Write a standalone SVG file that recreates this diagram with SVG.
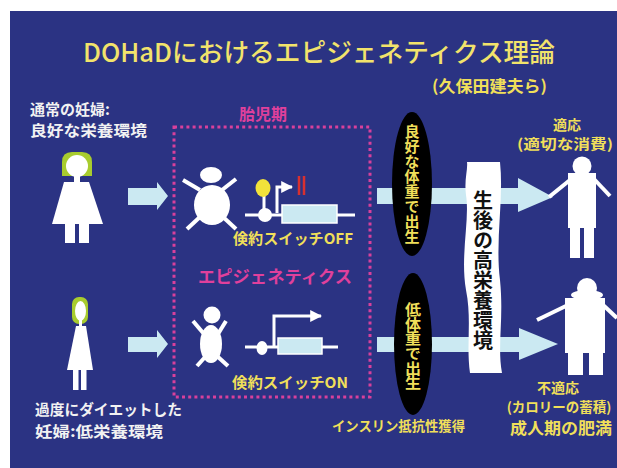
<svg xmlns="http://www.w3.org/2000/svg" width="617" height="468" viewBox="0 0 617 468">
  <style>
    .jp { font-family: "Noto Sans CJK JP", "Noto Sans", sans-serif; }
    .title { fill: #f2e36b; font-size: 26px; font-weight: 500; }
    .yel { fill: #f0df5a; font-weight: 700; }
    .wht { fill: #f2f2f2; font-weight: 700; font-size: 15px; }
    .mag { fill: #e0409c; font-weight: 700; }
    .fig { fill: #ffffff; }
    .limb { stroke: #ffffff; stroke-width: 4; stroke-linecap: butt; fill: none; }
    .dna { stroke: #ffffff; stroke-width: 3; fill: none; }
    .flow { fill: #cbe9f2; }
    .vtxt { writing-mode: vertical-rl; }
  </style>
  <defs>
    <marker id="tss" viewBox="0 0 10 10" refX="9" refY="5" markerWidth="4" markerHeight="4" orient="auto">
      <path d="M0,0 L10,5 L0,10 z" fill="#ffffff"/>
    </marker>
  </defs>

  <!-- slide background -->
  <rect x="0" y="0" width="617" height="468" fill="#ffffff"/>
  <rect x="10" y="11" width="607" height="457" fill="#2b3383"/>

  <!-- headings -->
  <g id="title">
    <text class="jp title" x="83" y="62" textLength="472" lengthAdjust="spacingAndGlyphs">DOHaDにおけるエピジェネティクス理論</text>
    <text class="jp yel" x="432" y="92" font-size="16" textLength="115" lengthAdjust="spacingAndGlyphs">(久保田建夫ら)</text>
  </g>

  <!-- connectors -->
  <g id="connectors">
    <polygon class="flow" points="128,188 157,188 157,182 168,196 157,210 157,205 128,205"/>
    <polygon class="flow" points="128,337 157,337 157,330 168,344 157,358 157,352 128,352"/>
    <polygon class="flow" points="377,188 518,188 518,178 553,197 518,212 518,204 377,204"/>
    <polygon class="flow" points="377,337 519,337 519,328 558,344 519,360 519,352 377,352"/>
  </g>

  <!-- mother with good nutrition -->
  <g id="mother-normal">
    <text class="jp wht" x="30" y="115">通常の妊婦:</text>
    <text class="jp wht" x="30" y="136" textLength="117" lengthAdjust="spacingAndGlyphs">良好な栄養環境</text>
    <path d="M62,176 L62,162 Q62,152 72,152 L82,152 Q92,152 92,162 L92,176 Z" fill="#a8cc2e"/>
    <circle class="fig" cx="77" cy="166" r="11"/>
    <rect class="fig" x="74" y="175" width="6" height="8"/>
    <polygon class="fig" points="64,182 89,182 103,224 52,224"/>
    <rect class="fig" x="65" y="223" width="10" height="20"/>
    <rect class="fig" x="79" y="223" width="10" height="20"/>
  </g>

  <!-- mother on an excessive diet -->
  <g id="mother-diet">
    <rect x="72" y="297" width="16" height="27" rx="7" fill="#a8cc2e"/>
    <ellipse class="fig" cx="80.5" cy="311" rx="5.5" ry="10"/>
    <rect class="fig" x="79" y="320" width="3" height="7"/>
    <polygon class="fig" points="76,326 86,326 93,370 67,370"/>
    <rect class="fig" x="73" y="369" width="5.5" height="21"/>
    <rect class="fig" x="81" y="369" width="5.5" height="21"/>
    <text class="jp wht" x="35" y="415" textLength="147" lengthAdjust="spacingAndGlyphs">過度にダイエットした</text>
    <text class="jp wht" x="35" y="437" textLength="128" lengthAdjust="spacingAndGlyphs">妊婦:低栄養環境</text>
  </g>

  <!-- fetal period frame -->
  <g id="fetal-period">
    <text class="jp mag" x="263" y="120" font-size="16" text-anchor="middle">胎児期</text>
    <rect x="174" y="127" width="196" height="270" fill="none" stroke="#d8409c" stroke-width="3" stroke-dasharray="3 3.2"/>
    <text class="jp mag" x="198" y="283" font-size="17" textLength="154" lengthAdjust="spacingAndGlyphs">エピジェネティクス</text>
  </g>

  <!-- well-nourished fetus -->
  <g id="fetus-normal">
    <line class="limb" x1="183" y1="180" x2="200" y2="190"/>
    <line class="limb" x1="236" y1="179" x2="222" y2="190"/>
    <line class="limb" x1="187" y1="229" x2="201" y2="216"/>
    <line class="limb" x1="236" y1="229" x2="222" y2="216"/>
    <ellipse class="fig" cx="211" cy="175" rx="11" ry="8"/>
    <ellipse class="fig" cx="212" cy="205" rx="18" ry="20"/>
  </g>

  <!-- small fetus -->
  <g id="fetus-small">
    <line class="limb" x1="193" y1="321" x2="204" y2="334"/>
    <line class="limb" x1="226" y1="321" x2="218" y2="334"/>
    <line class="limb" x1="197" y1="366" x2="206" y2="356"/>
    <line class="limb" x1="228" y1="366" x2="217" y2="356"/>
    <circle class="fig" cx="212" cy="315" r="8.5"/>
    <ellipse class="fig" cx="211" cy="344" rx="11" ry="19"/>
  </g>

  <!-- thrift switch off -->
  <g id="switch-off">
    <line class="dna" x1="245" y1="215" x2="355" y2="215"/>
    <line class="dna" x1="264" y1="196" x2="264" y2="210"/>
    <ellipse cx="263" cy="188" rx="7.5" ry="9" fill="#f2e23a"/>
    <circle class="fig" cx="265" cy="215" r="7"/>
    <polyline class="dna" points="277,213 277,187 292,187" marker-end="url(#tss)"/>
    <rect x="282" y="205" width="55" height="18" fill="#cbe9f2" stroke="#ffffff" stroke-width="1.5"/>
    <line x1="299" y1="176" x2="299" y2="195" stroke="#d83030" stroke-width="2.5"/>
    <line x1="304" y1="176" x2="304" y2="195" stroke="#d83030" stroke-width="2.5"/>
    <text class="jp yel" x="233" y="244" font-size="15" textLength="120" lengthAdjust="spacingAndGlyphs">倹約スイッチOFF</text>
  </g>

  <!-- thrift switch on -->
  <g id="switch-on">
    <line class="dna" x1="245" y1="347" x2="338" y2="347"/>
    <ellipse class="fig" cx="262" cy="348" rx="5.5" ry="7"/>
    <polyline class="dna" points="274,346 274,316 321,316" marker-end="url(#tss)"/>
    <rect x="278" y="338" width="44" height="16" fill="#cbe9f2" stroke="#ffffff" stroke-width="1.5"/>
    <text class="jp yel" x="232" y="388" font-size="15" textLength="116" lengthAdjust="spacingAndGlyphs">倹約スイッチON</text>
  </g>

  <!-- birth weight -->
  <g id="birth-good">
    <ellipse cx="412" cy="184" rx="20" ry="72" fill="#000000"/>
    <text class="jp yel vtxt" x="412" y="124" font-size="15" textLength="120" lengthAdjust="spacingAndGlyphs">良好な体重で出生</text>
  </g>
  <g id="birth-low">
    <ellipse cx="413" cy="344" rx="19" ry="71" fill="#000000"/>
    <text class="jp yel vtxt" x="413" y="302" font-size="16" textLength="88" lengthAdjust="spacingAndGlyphs">低体重で出生</text>
    <text class="jp yel" x="332" y="431" font-size="14" textLength="133" lengthAdjust="spacingAndGlyphs">インスリン抵抗性獲得</text>
  </g>

  <!-- postnatal high-nutrition environment -->
  <g id="postnatal">
    <path d="M467,162 L500,162 C504,200 495,240 500,280 C504,320 497,345 502,373 L470,373 C466,345 472,320 466,290 C460,255 470,220 466,195 C464,180 468,170 467,162 Z" fill="#ffffff"/>
    <text class="jp vtxt" x="483" y="190" font-size="20" font-weight="700" fill="#111111" textLength="160" lengthAdjust="spacingAndGlyphs">生後の高栄養環境</text>
  </g>

  <!-- adapted adult -->
  <g id="adult-adapted">
    <text class="jp yel" x="567" y="130" font-size="14" text-anchor="middle">適応</text>
    <text class="jp yel" x="565" y="149" font-size="14" text-anchor="middle" textLength="96" lengthAdjust="spacingAndGlyphs">(適切な消費)</text>
    <circle class="fig" cx="582" cy="166" r="9.5"/>
    <rect class="fig" x="568" y="173" width="28" height="55"/>
    <line class="limb" x1="570" y1="180" x2="549" y2="197"/>
    <line class="limb" x1="594" y1="179" x2="610" y2="196"/>
    <rect class="fig" x="570" y="226" width="10" height="32"/>
    <rect class="fig" x="584" y="226" width="10" height="32"/>
  </g>

  <!-- maladapted adult -->
  <g id="adult-obese">
    <circle class="fig" cx="587" cy="288" r="10"/>
    <ellipse class="fig" cx="587" cy="295" rx="16" ry="5"/>
    <rect class="fig" x="565" y="298" width="40" height="55"/>
    <line class="limb" x1="568" y1="305" x2="537" y2="320"/>
    <line class="limb" x1="602" y1="304" x2="617" y2="318"/>
    <rect class="fig" x="568" y="351" width="15" height="24"/>
    <rect class="fig" x="589" y="351" width="14" height="24"/>
    <text class="jp yel" x="558" y="393" font-size="14" text-anchor="middle">不適応</text>
    <text class="jp yel" x="559" y="412" font-size="13.5" text-anchor="middle">(カロリーの蓄積)</text>
    <text class="jp yel" x="561" y="434" font-size="16" text-anchor="middle" textLength="102" lengthAdjust="spacingAndGlyphs">成人期の肥満</text>
  </g>
</svg>
